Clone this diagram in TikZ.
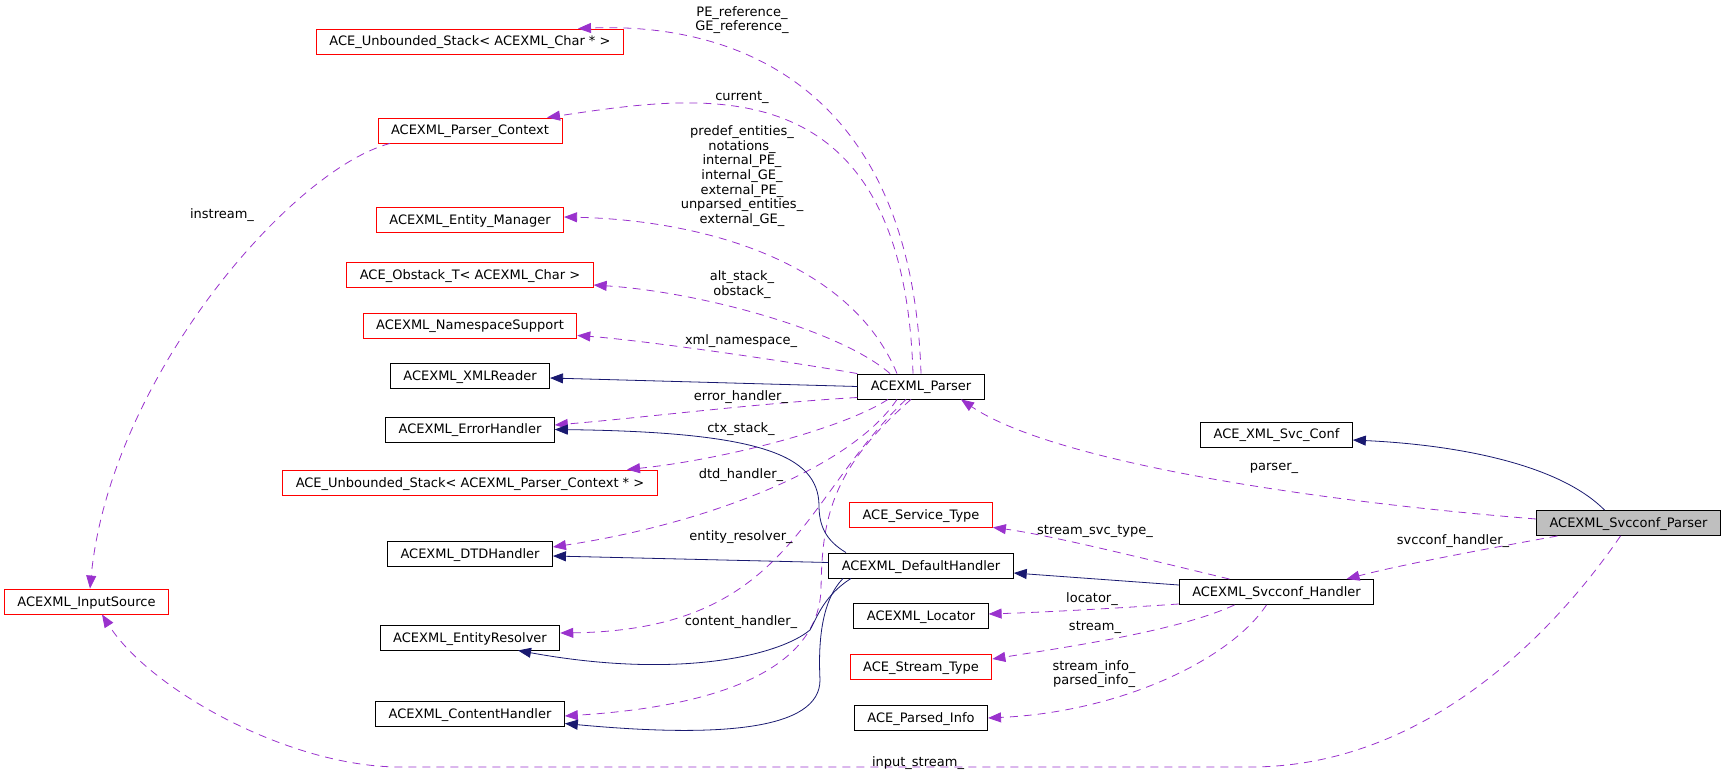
\documentclass[tikz,border=0pt]{standalone}
\usepackage{fontspec}
\setmainfont{DejaVu Sans}
\usetikzlibrary{arrows.meta}
\definecolor{usecol}{HTML}{9A32CD}
\definecolor{inhcol}{HTML}{191970}
\tikzset{
  cls/.style={draw=black, line width=0.9pt, inner xsep=13pt, inner ysep=0pt,
    minimum height=25pt, text height=11pt, text depth=2pt,
    font=\fontsize{13}{14.7}\selectfont},
  undoc/.style={cls, draw=red},
  lbl/.style={inner sep=0pt, align=center, font=\fontsize{13}{14.7}\selectfont},
  uses/.style={draw=usecol, line width=0.8pt, dash pattern=on 8pt off 6pt,
    -{Triangle[length=13pt,width=10pt]}},
  inherits/.style={draw=inhcol, line width=0.8pt, -{Triangle[length=13pt,width=10pt]}}
}
\begin{document}
\begin{tikzpicture}[x=1pt, y=-1pt]
  \useasboundingbox (0,0) rectangle (1725,775);
  \foreach \n/\y/\s/\t in {
      ustackchar/41.5/undoc/{ACE\_Unbounded\_Stack< ACEXML\_Char * >},
      pctx/130.5/undoc/{ACEXML\_Parser\_Context},
      entmgr/220/undoc/{ACEXML\_Entity\_Manager},
      obstack/275/undoc/{ACE\_Obstack\_T< ACEXML\_Char >},
      nssupport/325.5/undoc/{ACEXML\_NamespaceSupport},
      xmlreader/376/cls/{ACEXML\_XMLReader},
      errh/429.5/cls/{ACEXML\_ErrorHandler},
      ustackctx/482.5/undoc/{ACE\_Unbounded\_Stack< ACEXML\_Parser\_Context * >},
      dtdh/553.5/cls/{ACEXML\_DTDHandler},
      entres/637.5/cls/{ACEXML\_EntityResolver},
      conth/713.5/cls/{ACEXML\_ContentHandler}}
    \node[\s] (\n) at (470,\y) {\t};
  \foreach \n/\y/\s/\t in {
      parser/386.5/cls/{ACEXML\_Parser},
      svctype/514.5/undoc/{ACE\_Service\_Type},
      defh/565.5/cls/{ACEXML\_DefaultHandler},
      locator/616/cls/{ACEXML\_Locator},
      strtype/666.5/undoc/{ACE\_Stream\_Type},
      parsedinfo/718/cls/{ACE\_Parsed\_Info}}
    \node[\s] (\n) at (921,\y) {\t};
  \node[undoc] (insrc) at (86.5,601.5) {ACEXML\_InputSource};
  \node[cls] (svcconf) at (1276.5,434.5) {ACE\_XML\_Svc\_Conf};
  \node[cls, fill=gray!50] (scparser) at (1628.5,523) {ACEXML\_Svcconf\_Parser};
  \node[cls] (schandler) at (1276.5,592) {ACEXML\_Svcconf\_Handler};

  \draw[uses] (parser.north) .. controls (912,90) and (740,22) .. ([xshift=108pt]ustackchar.north);
  \draw[uses] ([xshift=-8pt]parser.north) .. controls (903,60) and (700,95) .. ([xshift=77pt]pctx.north);
  \draw[uses] ([xshift=-24pt]parser.north) .. controls (850,260) and (700,220) .. ([yshift=3pt]entmgr.east);
  \draw[uses] ([xshift=-31pt]parser.north) .. controls (840,330) and (700,292) .. ([yshift=-10pt]obstack.east);
  \draw[uses] (parser.north west) .. controls (780,360) and (640,340) .. ([yshift=-10pt]nssupport.east);
  \draw[inherits] (parser.west) -- ([yshift=-2pt]xmlreader.east);
  \draw[uses] ([yshift=-11pt]parser.west) .. controls (760,403) and (640,418) .. ([yshift=4.5pt]errh.east);
  \draw[uses] ([xshift=-33pt]parser.south) .. controls (840,430) and (720,460) .. ([xshift=157pt]ustackctx.north);
  \draw[uses] ([xshift=-24pt]parser.south) .. controls (850,470) and (700,525) .. ([yshift=6.5pt]dtdh.east);
  \draw[uses] ([xshift=-15pt]parser.south) .. controls (800,500) and (790,630) .. ([yshift=4.5pt]entres.east);
  \draw[uses] ([xshift=-10pt]parser.south) .. controls (830,470) and (822,520) .. (821,590)
    .. controls (818,660) and (740,705) .. ([yshift=-2.5pt]conth.east);
  \draw[uses] ([xshift=-80pt]pctx.south) .. controls (290,170) and (110,380) .. ([xshift=3.5pt]insrc.north);

  \draw[inherits] ([xshift=-24pt]scparser.north) .. controls (1560,465) and (1460,445) .. ([yshift=-5.5pt]svcconf.east);
  \draw[uses] ([yshift=4pt]scparser.west) .. controls (1300,500) and (1050,460) .. ([xshift=40pt]parser.south);
  \draw[uses] ([xshift=-71pt]scparser.south) .. controls (1480,550) and (1400,565) .. ([xshift=70pt]schandler.north);
  \draw[uses] ([xshift=-8pt]scparser.south) .. controls (1570,610) and (1440,767) .. (1250,767) -- (400,767)
    .. controls (290,767) and (150,690) .. ([xshift=15.5pt]insrc.south);

  \draw[inherits] ([yshift=7pt]schandler.west) -- ([yshift=-7.5pt]defh.east);
  \draw[uses] ([xshift=-47pt]schandler.north) .. controls (1150,560) and (1050,535) .. (svctype.south east);
  \draw[uses] ([yshift=-12pt]schandler.west) .. controls (1120,608) and (1050,612) .. ([yshift=2pt]locator.east);
  \draw[uses] ([xshift=-42pt]schandler.south) .. controls (1180,630) and (1080,645) .. ([yshift=7.5pt]strtype.east);
  \draw[uses] ([xshift=-10pt]schandler.south) .. controls (1230,660) and (1120,712) .. (parsedinfo.east);

  \draw[inherits] ([xshift=-75pt]defh.north) .. controls (825,540) and (819,525) .. (819,505)
    .. controls (818,455) and (760,432) .. (errh.east);
  \draw[inherits] ([yshift=3pt]defh.west) -- ([yshift=-2.5pt]dtdh.east);
  \draw[inherits] ([xshift=-70pt]defh.south) .. controls (825,595) and (818,615) .. (810,630)
    .. controls (780,655) and (680,680) .. ([xshift=48pt]entres.south);
  \draw[inherits] ([xshift=-78pt]defh.south) .. controls (822,600) and (818,640) .. (820,680)
    .. controls (820,730) and (720,738) .. ([yshift=-10pt]conth.east);

  \node[lbl] (lpe) at (742,20) {PE\_reference\_\\GE\_reference\_};
  \node[lbl] (lcur) at (742,97) {current\_};
  \node[lbl] (lent) at (742,176) {predef\_entities\_\\notations\_\\internal\_PE\_\\internal\_GE\_\\external\_PE\_\\unparsed\_entities\_\\external\_GE\_};
  \node[lbl] (lobs) at (742,284.5) {alt\_stack\_\\obstack\_};
  \node[lbl] (lns) at (741,341) {xml\_namespace\_};
  \node[lbl] (lerr) at (741,397) {error\_handler\_};
  \node[lbl] (lctx) at (741,429) {ctx\_stack\_};
  \node[lbl] (ldtd) at (741,475) {dtd\_handler\_};
  \node[lbl] (lres) at (741,537) {entity\_resolver\_};
  \node[lbl] (lcont) at (741,622) {content\_handler\_};
  \node[lbl] (linst) at (222,215) {instream\_};
  \node[lbl] (lparser) at (1274,468) {parser\_};
  \node[lbl] (lsvch) at (1453,541) {svcconf\_handler\_};
  \node[lbl] (lsvct) at (1095,531) {stream\_svc\_type\_};
  \node[lbl] (lloc) at (1092,599) {locator\_};
  \node[lbl] (lstr) at (1095,627) {stream\_};
  \node[lbl] (linfo) at (1094,674) {stream\_info\_\\parsed\_info\_};
  \node[lbl] (linput) at (918,763) {input\_stream\_};
\end{tikzpicture}
\end{document}
